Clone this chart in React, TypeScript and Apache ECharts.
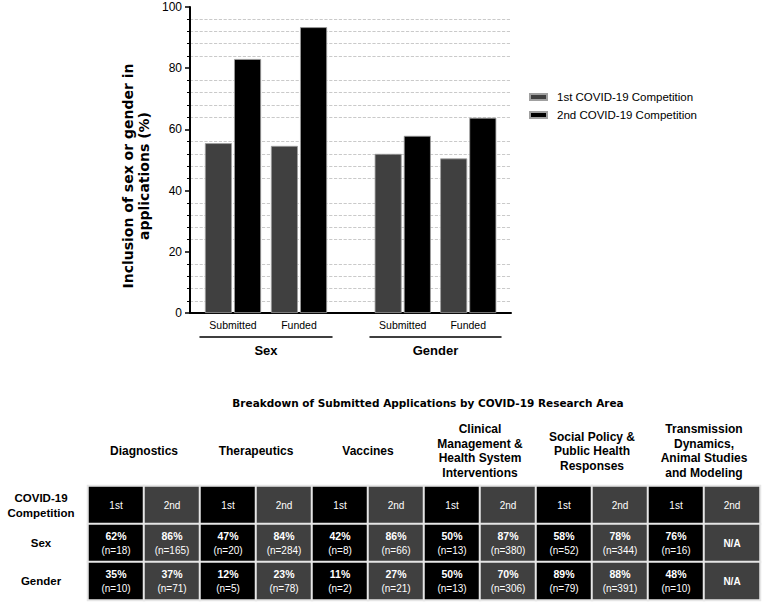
import React, { useEffect, useRef } from "react";
import * as echarts from "echarts";

// ---- Top bar chart data ----
const stages = ["Submitted", "Funded"];
const groups = ["Sex", "Gender"];
const seriesNames = ["1st COVID-19 Competition", "2nd COVID-19 Competition"];
const sexFirst = [55.5, 54.6];
const sexSecond = [83.0, 93.4];
const genderFirst = [52.0, 50.5];
const genderSecond = [57.9, 63.8];

// ---- Table data ----
const areas = [
  "Diagnostics",
  "Therapeutics",
  "Vaccines",
  "Clinical\nManagement &\nHealth System\nInterventions",
  "Social Policy &\nPublic Health\nResponses",
  "Transmission\nDynamics,\nAnimal Studies\nand Modeling",
];
const competitions = ["1st", "2nd"];
const rowLabels = ["COVID-19\nCompetition", "Sex", "Gender"];
const sexPct = [62, 86, 47, 84, 42, 86, 50, 87, 58, 78, 76, null];
const sexN = [18, 165, 20, 284, 8, 66, 13, 380, 52, 344, 16, null];
const genderPct = [35, 37, 12, 23, 11, 27, 50, 70, 89, 88, 48, null];
const genderN = [10, 71, 5, 78, 2, 21, 13, 306, 79, 391, 10, null];

const FONT = "Liberation Sans";
const WIDE = "DejaVu Sans";
const GRAY = "#404040";
const BLACK = "#000000";

export default function App() {
  const ref = useRef<HTMLDivElement>(null);
  useEffect(() => {
    if (!ref.current) return;
    const chart = echarts.init(ref.current, undefined, { renderer: "svg" });

    const columns: string[] = [];
    areas.forEach(() => competitions.forEach((c) => columns.push(c)));

    const heatData: any[] = [];
    columns.forEach((c, ci) => {
      const comp = ci % 2;
      heatData.push([ci, 0, comp]);
      heatData.push([ci, 1, comp]);
      heatData.push([ci, 2, comp]);
    });

    const cellLabel = (p: any) => {
      const col = p.value[0];
      const row = p.value[1];
      if (row === 0) return columns[col];
      const pct = row === 1 ? sexPct[col] : genderPct[col];
      const n = row === 1 ? sexN[col] : genderN[col];
      if (pct === null) return "{na|N/A}";
      return `{p|${pct}%}\n{n|(n=${n})}`;
    };

    const yMain = {
      min: 0,
      max: 100,
      interval: 20,
    };

    const barStyle = (color: string) => ({
      color,
      borderColor: "#a0a0a0",
      borderWidth: 0.8,
    });

    const option: any = {
      animation: false,
      textStyle: { fontFamily: FONT },
      title: {
        text: "Breakdown of Submitted Applications by COVID-19 Research Area",
        left: 423,
        textAlign: "center",
        top: 392,
        textStyle: { fontFamily: WIDE, fontSize: 10.5, fontWeight: "bold", color: "#000" },
      },
      legend: {
        data: seriesNames,
        orient: "vertical",
        left: 529,
        top: 91,
        padding: 0,
        itemWidth: 17,
        itemHeight: 6,
        itemGap: 6,
        icon: "rect",
        textStyle: { fontFamily: FONT, fontSize: 11.5, color: "#000", padding: [0, 0, 0, 5] },
      },
      visualMap: {
        type: "piecewise",
        show: false,
        seriesIndex: 4,
        dimension: 2,
        pieces: [
          { value: 0, color: BLACK },
          { value: 1, color: GRAY },
        ],
      },
      grid: [
        { left: 190, top: 7, width: 321, height: 306 },
        { left: 200, top: 7, width: 132, height: 306 },
        { left: 370, top: 7, width: 131, height: 306 },
        { left: 88, top: 486, width: 672, height: 114 },
      ],
      xAxis: [
        {
          gridIndex: 0,
          type: "category",
          data: [""],
          axisLine: { show: true, lineStyle: { color: "#000", width: 2 } },
          axisTick: { show: false },
          axisLabel: { show: false },
        },
        {
          gridIndex: 1,
          type: "category",
          data: stages,
          axisLine: { show: false },
          axisTick: { show: false },
          axisLabel: { fontSize: 10.5, color: "#000", margin: 6, interval: 0 },
        },
        {
          gridIndex: 2,
          type: "category",
          data: stages,
          axisLine: { show: false },
          axisTick: { show: false },
          axisLabel: { fontSize: 10.5, color: "#000", margin: 6, interval: 0 },
        },
        {
          gridIndex: 1,
          type: "category",
          data: [groups[0]],
          position: "bottom",
          offset: 24,
          axisLine: { show: true, lineStyle: { color: "#000", width: 1.5 } },
          axisTick: { show: false },
          axisLabel: { fontSize: 13, fontWeight: "bold", color: "#000", margin: 7 },
        },
        {
          gridIndex: 2,
          type: "category",
          data: [groups[1]],
          position: "bottom",
          offset: 24,
          axisLine: { show: true, lineStyle: { color: "#000", width: 1.5 } },
          axisTick: { show: false },
          axisLabel: { fontSize: 13, fontWeight: "bold", color: "#000", margin: 7 },
        },
        {
          gridIndex: 3,
          type: "category",
          data: columns,
          show: false,
        },
        {
          gridIndex: 3,
          type: "category",
          data: areas,
          position: "top",
          axisLine: { show: false },
          axisTick: { show: false },
          axisLabel: {
            interval: 0,
            fontSize: 12,
            fontWeight: "bold",
            color: "#000",
            lineHeight: 14.5,
            verticalAlign: "middle",
            margin: 35,
          },
        },
      ],
      yAxis: [
        {
          gridIndex: 0,
          type: "value",
          ...yMain,
          name: "Inclusion of sex or gender in\napplications (%)",
          nameLocation: "middle",
          nameGap: 38,
          nameTextStyle: {
            fontFamily: WIDE,
            fontSize: 14,
            fontWeight: "bold",
            color: "#000",
            lineHeight: 16,
            padding: [0, 32, 0, 0],
          },
          axisLine: { show: true, lineStyle: { color: "#000", width: 2 } },
          axisTick: { show: true, length: 5, inside: false, lineStyle: { color: "#000", width: 1.5 } },
          minorTick: { show: true, splitNumber: 5, length: 3, lineStyle: { color: "#000", width: 1 } },
          splitLine: { show: false },
          minorSplitLine: { show: true, lineStyle: { color: "#bdbdbd", type: "dashed", width: 0.8 } },
          axisLabel: { fontSize: 12, color: "#000", margin: 8 },
        },
        { gridIndex: 1, type: "value", ...yMain, show: false, splitLine: { show: false } },
        { gridIndex: 2, type: "value", ...yMain, show: false, splitLine: { show: false } },
        {
          gridIndex: 3,
          type: "category",
          data: rowLabels,
          inverse: true,
          axisLine: { show: false },
          axisTick: { show: false },
          axisLabel: {
            interval: 0,
            fontSize: 11.5,
            fontWeight: "bold",
            color: "#000",
            align: "center",
            margin: 47,
            lineHeight: 15,
          },
        },
      ],
      series: [
        {
          name: seriesNames[0],
          type: "bar",
          xAxisIndex: 1,
          yAxisIndex: 1,
          data: sexFirst,
          barWidth: 27,
          barGap: "8%",
          itemStyle: barStyle(GRAY),
        },
        {
          name: seriesNames[1],
          type: "bar",
          xAxisIndex: 1,
          yAxisIndex: 1,
          data: sexSecond,
          barWidth: 27,
          barGap: "8%",
          itemStyle: barStyle(BLACK),
        },
        {
          name: seriesNames[0],
          type: "bar",
          xAxisIndex: 2,
          yAxisIndex: 2,
          data: genderFirst,
          barWidth: 27,
          barGap: "8%",
          itemStyle: barStyle(GRAY),
        },
        {
          name: seriesNames[1],
          type: "bar",
          xAxisIndex: 2,
          yAxisIndex: 2,
          data: genderSecond,
          barWidth: 27,
          barGap: "8%",
          itemStyle: barStyle(BLACK),
        },
        {
          type: "heatmap",
          xAxisIndex: 5,
          yAxisIndex: 3,
          data: heatData,
          itemStyle: { borderColor: "#e6e6e6", borderWidth: 2 },
          label: {
            show: true,
            formatter: cellLabel,
            color: "#fff",
            fontSize: 10,
            rich: {
              p: { fontSize: 10.5, fontWeight: "bold", color: "#fff", lineHeight: 14 },
              n: { fontSize: 10, color: "#fff", lineHeight: 14 },
              na: { fontSize: 10, color: "#fff", fontWeight: "bold" },
            },
          },
          emphasis: { disabled: true },
        },
      ],
    };

    chart.setOption(option);
    return () => chart.dispose();
  }, []);

  return (
    <div
      ref={ref}
      style={{ position: "fixed", left: 0, top: 0, width: 762, height: 603, background: "#fff" }}
    />
  );
}
